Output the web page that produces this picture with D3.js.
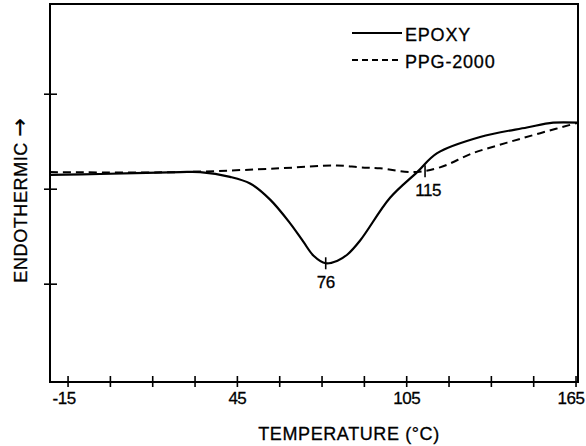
<!DOCTYPE html>
<html>
<head>
<meta charset="utf-8">
<script src="https://cdn.jsdelivr.net/npm/d3@7"></script>
<style>
  body { margin: 0; background: #fff; }
  text { font-family: "Liberation Sans", Arial, sans-serif; fill: #000; stroke: #000; stroke-width: 0.3; }
</style>
</head>
<body>
<div id="chart"></div>
<script>
// DSC traces (temperature in °C, arbitrary heat-flow units)
const epoxyT = [-21.4, -3.7, 24.7, 31.8, 42.4, 49.5, 56.6, 63.7, 68.3, 72.0, 76.3, 80.3, 83.9, 88.5, 99.1, 108.7, 115.8, 131.0, 147.6, 156.9, 165.7]
const epoxyV = [2.15, 2.16, 2.18, 2.18, 2.13, 2.06, 1.89, 1.64, 1.45, 1.30, 1.22, 1.245, 1.31, 1.46, 1.91, 2.18, 2.38, 2.55, 2.65, 2.70, 2.70]
const ppgT = [-21.4, 24.7, 60.1, 80.3, 88.5, 95.6, 107.3, 116.8, 128.5, 140.6, 152.3, 165.7]
const ppgV = [2.18, 2.18, 2.22, 2.25, 2.23, 2.22, 2.18, 2.23, 2.38, 2.49, 2.59, 2.70]

const xTicks = [-15, 0, 15, 30, 45, 60, 75, 90, 105, 120, 135, 150, 165]
const xTickLabels = { "-15": "-15", "45": "45", "105": "105", "165": "165" }
const yTicks = [1, 2, 3]

const peakT = [76.3, 111.5]
const peakV = [1.22, 2.19]
const peakLabels = ["76", "115"]

const W = 586, H = 446
const svg = d3.select("#chart").append("svg")
  .attr("width", W)
  .attr("height", H)

const x = d3.scaleLinear().domain([-21.4, 165.7]).range([50, 578])
const y = d3.scaleLinear().domain([-0.03, 3.95]).range([382, 4])

// frame
svg.append("rect")
  .attr("x", x.range()[0]).attr("y", y.range()[1])
  .attr("width", x.range()[1] - x.range()[0])
  .attr("height", y.range()[0] - y.range()[1])
  .attr("fill", "none")
  .attr("stroke", "#000")
  .attr("stroke-width", 2)

// x ticks crossing the bottom axis
svg.append("g").selectAll("line")
  .data(xTicks)
  .join("line")
  .attr("x1", d => x(d)).attr("x2", d => x(d))
  .attr("y1", y.range()[0] - 6).attr("y2", y.range()[0] + 5)
  .attr("stroke", "#000").attr("stroke-width", 1.6)

// keep the last label inside the window, as in the original
svg.append("g").selectAll("text")
  .data(xTicks.filter(d => xTickLabels[d]))
  .join("text")
  .attr("x", d => Math.min(x(d), W - 15) - (d < 0 ? 4 : 0))
  .attr("y", 404)
  .attr("text-anchor", "middle")
  .attr("font-size", 17)
  .attr("letter-spacing", -0.5)
  .text(d => xTickLabels[d])

// y ticks crossing the left axis
svg.append("g").selectAll("line")
  .data(yTicks)
  .join("line")
  .attr("x1", x.range()[0] - 6).attr("x2", x.range()[0] + 7)
  .attr("y1", d => y(d)).attr("y2", d => y(d))
  .attr("stroke", "#000").attr("stroke-width", 1.6)

// axis titles
svg.append("text")
  .attr("x", 349).attr("y", 440)
  .attr("text-anchor", "middle")
  .attr("font-size", 18)
  .attr("letter-spacing", 0.6)
  .text("TEMPERATURE (°C)")

const yTitle = svg.append("text")
  .attr("transform", "translate(27,200) rotate(-90)")
  .attr("text-anchor", "middle")
  .attr("font-size", 18)
  .attr("letter-spacing", 0.6)
yTitle.append("tspan").text("ENDOTHERMIC ")
yTitle.append("tspan")
  .style("font-family", "'DejaVu Sans', sans-serif")
  .attr("font-size", 22)
  .text("→")

// curves
const line = d3.line()
  .x(d => x(d[0]))
  .y(d => y(d[1]))
  .curve(d3.curveCatmullRom.alpha(0.5))

svg.append("path")
  .datum(d3.zip(ppgT, ppgV))
  .attr("d", line)
  .attr("fill", "none")
  .attr("stroke", "#000")
  .attr("stroke-width", 2)
  .attr("stroke-dasharray", "8,5")

svg.append("path")
  .datum(d3.zip(epoxyT, epoxyV))
  .attr("d", line)
  .attr("fill", "none")
  .attr("stroke", "#000")
  .attr("stroke-width", 2.2)

// peak markers
const peaks = d3.zip(peakT, peakV, peakLabels)
svg.append("g").selectAll("line")
  .data(peaks)
  .join("line")
  .attr("x1", d => x(d[0])).attr("x2", d => x(d[0]))
  .attr("y1", d => y(d[1]) - 6).attr("y2", d => y(d[1]) + 6)
  .attr("stroke", "#000").attr("stroke-width", 1.6)

svg.append("g").selectAll("text")
  .data(peaks)
  .join("text")
  .attr("x", d => x(d[0]) + (d[2] === "115" ? 3 : 0))
  .attr("y", d => y(d[1]) + 25)
  .attr("text-anchor", "middle")
  .attr("font-size", 17)
  .attr("letter-spacing", -0.5)
  .text(d => d[2])

// legend
const legend = [
  { name: "EPOXY", dash: null, yPos: 33 },
  { name: "PPG-2000", dash: "6,4", yPos: 60 }
]
const lg = svg.append("g")
lg.selectAll("line")
  .data(legend)
  .join("line")
  .attr("x1", 352).attr("x2", 402)
  .attr("y1", d => d.yPos).attr("y2", d => d.yPos)
  .attr("stroke", "#000").attr("stroke-width", 2)
  .attr("stroke-dasharray", d => d.dash)
lg.selectAll("text")
  .data(legend)
  .join("text")
  .attr("x", 405)
  .attr("y", d => d.yPos + 8)
  .attr("font-size", 18)
  .attr("letter-spacing", 0.8)
  .text(d => d.name)
</script>
</body>
</html>
